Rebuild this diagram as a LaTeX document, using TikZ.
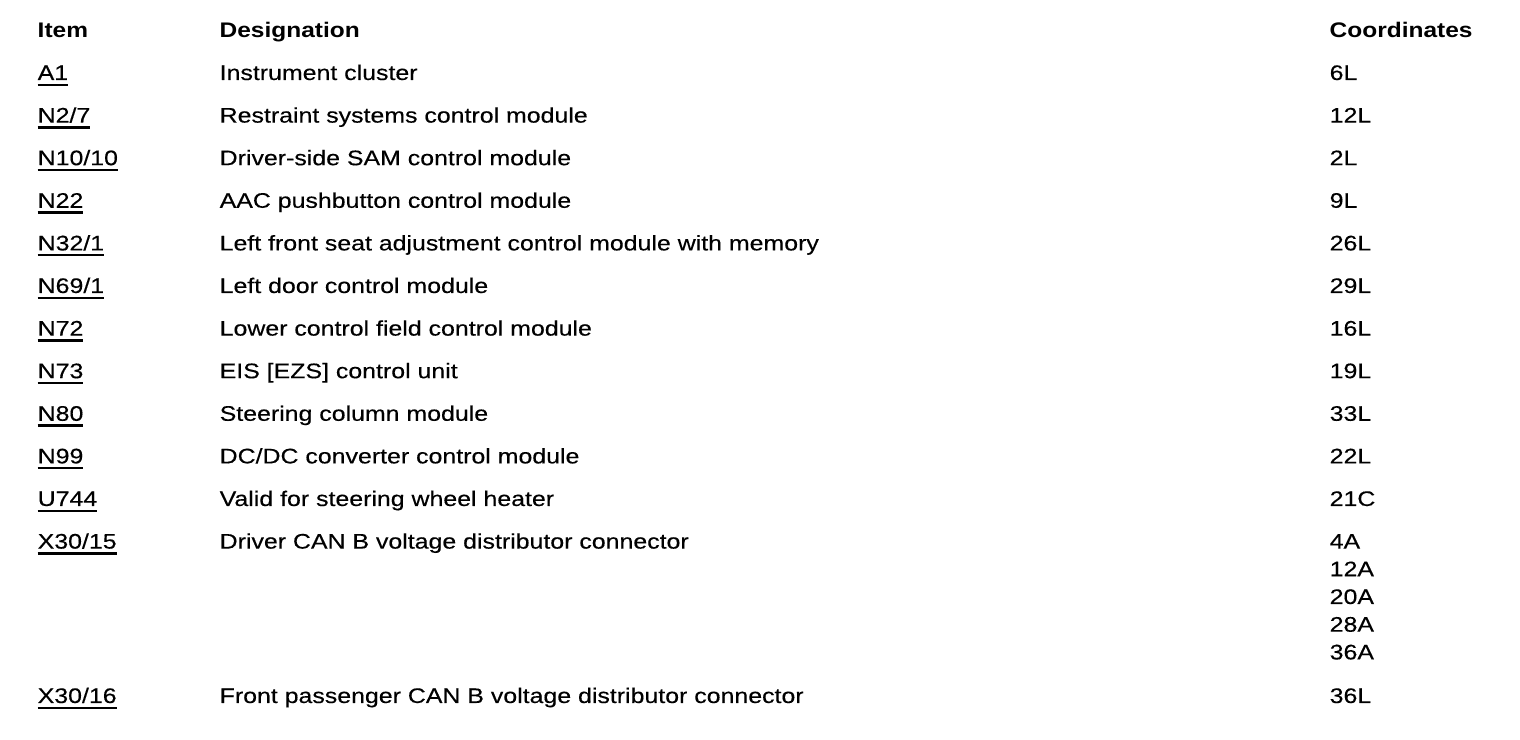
\documentclass[tikz,border=0pt]{standalone}
\usepackage{fontspec}
\setmainfont{Liberation Sans}[FakeStretch=1.18,
  UprightFeatures={FakeBold=0.3}, BoldFeatures={FakeStretch=1.16}]
\usepackage{tikz}

\newcommand{\itemline}[1]{\setbox0\hbox{#1}\rlap{\rule[-0.28em]{\wd0}{0.11em}}\box0}

\tikzset{
  cell/.style={anchor=base west, inner sep=0pt, font=\fontsize{6}{7}\selectfont},
  hdr/.style={cell, font=\fontsize{6}{7}\selectfont\bfseries},
}

\begin{document}
\begin{tikzpicture}[x=0.01cm,y=-0.01cm]
\useasboundingbox (0,0) rectangle (1520,740);
% header
\node (hitem) at (37,38) [hdr] {Item};
\node (hdes) at (219,38) [hdr] {Designation};
\node (hcoord) at (1329,38) [hdr] {Coordinates};
% rows
\node (a1) at (37,80) [cell] {\itemline{A1}};
\node (a1d) at (219,80) [cell] {Instrument cluster};
\node (a1c) at (1329,80) [cell] {6L};
\node (n27) at (37,122.6) [cell] {\itemline{N2/7}};
\node (n27d) at (219,122.6) [cell] {Restraint systems control module};
\node (n27c) at (1329,122.6) [cell] {12L};
\node (n1010) at (37,165.2) [cell] {\itemline{N10/10}};
\node (n1010d) at (219,165.2) [cell] {Driver-side SAM control module};
\node (n1010c) at (1329,165.2) [cell] {2L};
\node (n22) at (37,207.8) [cell] {\itemline{N22}};
\node (n22d) at (219,207.8) [cell] {AAC pushbutton control module};
\node (n22c) at (1329,207.8) [cell] {9L};
\node (n321) at (37,250.4) [cell] {\itemline{N32/1}};
\node (n321d) at (219,250.4) [cell] {Left front seat adjustment control module with memory};
\node (n321c) at (1329,250.4) [cell] {26L};
\node (n691) at (37,293) [cell] {\itemline{N69/1}};
\node (n691d) at (219,293) [cell] {Left door control module};
\node (n691c) at (1329,293) [cell] {29L};
\node (n72) at (37,335.6) [cell] {\itemline{N72}};
\node (n72d) at (219,335.6) [cell] {Lower control field control module};
\node (n72c) at (1329,335.6) [cell] {16L};
\node (n73) at (37,378.2) [cell] {\itemline{N73}};
\node (n73d) at (219,378.2) [cell] {EIS [EZS] control unit};
\node (n73c) at (1329,378.2) [cell] {19L};
\node (n80) at (37,420.8) [cell] {\itemline{N80}};
\node (n80d) at (219,420.8) [cell] {Steering column module};
\node (n80c) at (1329,420.8) [cell] {33L};
\node (n99) at (37,463.4) [cell] {\itemline{N99}};
\node (n99d) at (219,463.4) [cell] {DC/DC converter control module};
\node (n99c) at (1329,463.4) [cell] {22L};
\node (u744) at (37,506) [cell] {\itemline{U744}};
\node (u744d) at (219,506) [cell] {Valid for steering wheel heater};
\node (u744c) at (1329,506) [cell] {21C};
\node (x3015) at (37,548.6) [cell] {\itemline{X30/15}};
\node (x3015d) at (219,548.6) [cell] {Driver CAN B voltage distributor connector};
\node (x3015c1) at (1329,548.6) [cell] {4A};
\node (x3015c2) at (1329,576.3) [cell] {12A};
\node (x3015c3) at (1329,604) [cell] {20A};
\node (x3015c4) at (1329,631.7) [cell] {28A};
\node (x3015c5) at (1329,659.4) [cell] {36A};
\node (x3016) at (37,703) [cell] {\itemline{X30/16}};
\node (x3016d) at (219,703) [cell] {Front passenger CAN B voltage distributor connector};
\node (x3016c) at (1329,703) [cell] {36L};
\end{tikzpicture}
\end{document}
